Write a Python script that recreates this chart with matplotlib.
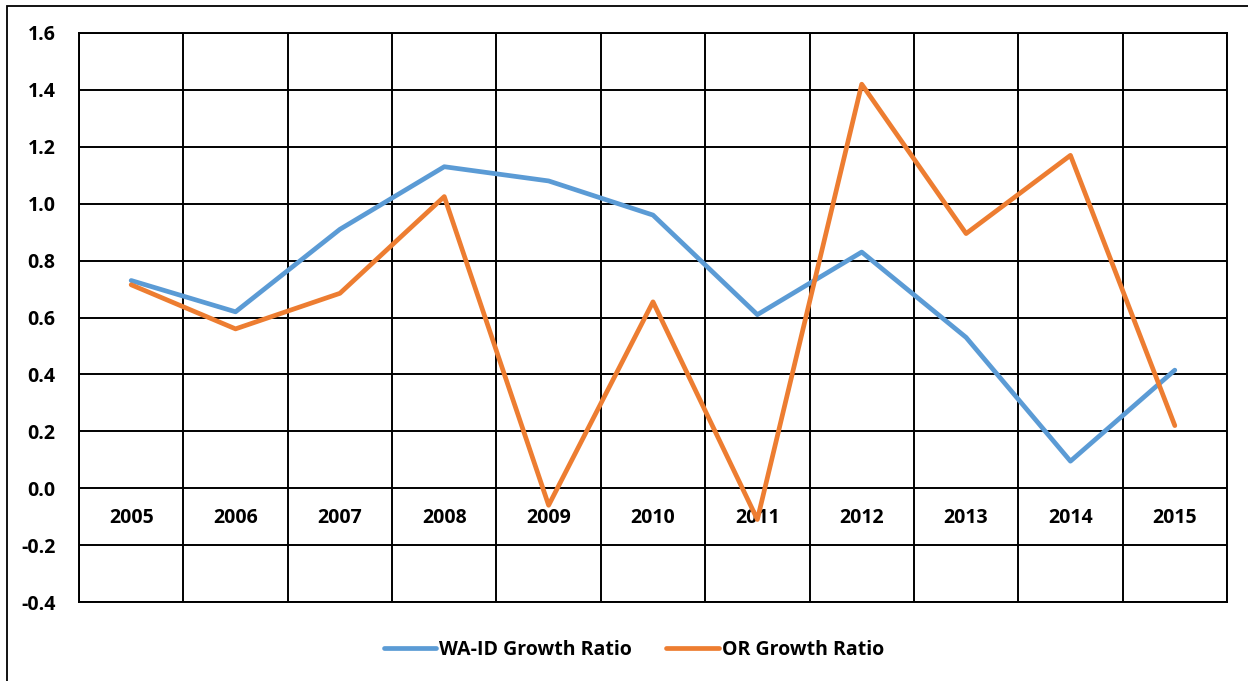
import matplotlib
matplotlib.use('Agg')
import matplotlib.pyplot as plt
import numpy as np
from matplotlib.patches import Rectangle

years = ['2005', '2006', '2007', '2008', '2009', '2010', '2011', '2012', '2013', '2014', '2015']
wa_id = [0.73, 0.62, 0.91, 1.13, 1.08, 0.96, 0.61, 0.83, 0.53, 0.095, 0.415]
oregon = [0.715, 0.56, 0.685, 1.025, -0.06, 0.655, -0.11, 1.42, 0.895, 1.17, 0.22]

plt.rcParams['font.family'] = ['Open Sans', 'DejaVu Sans']
plt.rcParams['font.weight'] = 'bold'
fs = 14

fig = plt.figure(figsize=(12.48, 6.81), dpi=100)
ax = fig.add_axes([79 / 1248, 1 - 602 / 681, (1227 - 79) / 1248, (602 - 33) / 681])

# outer chart border
fig.patches.append(Rectangle((7 / 1248, -0.1), 1.2, 1 - 6 / 681 + 0.1, transform=fig.transFigure,
                             fill=False, edgecolor='black', linewidth=1.3))

x = np.arange(len(years))
ax.plot(x, wa_id, color='#5B9BD5', linewidth=3.4, label='WA-ID Growth Ratio', zorder=3,
        solid_capstyle='round', solid_joinstyle='round')
ax.plot(x, oregon, color='#ED7D31', linewidth=3.4, label='OR Growth Ratio', zorder=3,
        solid_capstyle='round', solid_joinstyle='round')

ax.set_xlim(-0.5, len(years) - 0.5)
ax.set_ylim(-0.4, 1.6)
yt = np.arange(-0.4, 1.61, 0.2)
ax.set_yticks(yt)
ax.set_yticklabels(['{:.1f}'.format(v) for v in yt], fontsize=fs, fontweight='bold')
ax.tick_params(axis='y', length=0, pad=17)
ax.set_xticks(np.arange(-0.5, len(years), 1.0))
ax.set_xticklabels([])
ax.tick_params(axis='x', length=0)
ax.grid(True, color='black', linewidth=1.4)
for s in ax.spines.values():
    s.set_linewidth(1.4)
    s.set_color('black')

# category labels sit just under the zero line
lo, hi = ax.get_ylim()
sec = ax.secondary_xaxis((0 - lo) / (hi - lo))
sec.set_xticks(x)
sec.set_xticklabels(years, fontsize=fs, fontweight='bold')
sec.tick_params(length=0, pad=14)
sec.spines['bottom'].set_visible(False)

ax.legend(loc='center', bbox_to_anchor=(0.508, 1 - 650 / 681), bbox_transform=fig.transFigure,
          ncol=2, frameon=False, fontsize=fs, handlelength=2.7, handletextpad=0.15,
          columnspacing=1.75)

fig.savefig('out.png', dpi=100)
